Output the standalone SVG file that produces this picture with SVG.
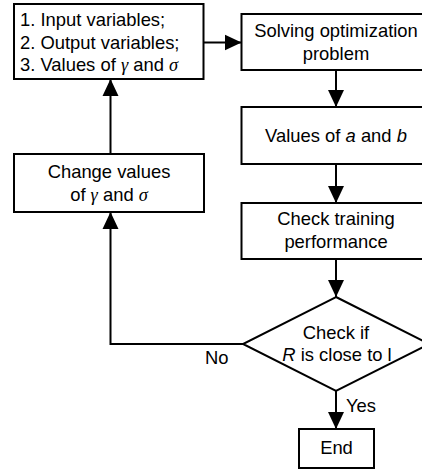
<svg xmlns="http://www.w3.org/2000/svg" width="422" height="471" viewBox="0 0 422 471">
<defs>
<style>
.box{fill:#fff;stroke:#000;stroke-width:2}
.t{font-family:"Liberation Sans",Arial,sans-serif;font-size:18.4px;fill:#000}
.c{text-anchor:middle}
.g{font-family:"Liberation Serif","Times New Roman",serif;font-style:italic}
.i{font-style:italic}
.ln{fill:none;stroke:#000;stroke-width:2}
</style>
<marker id="ah" markerUnits="userSpaceOnUse" markerWidth="17" markerHeight="17" viewBox="0 0 17 16" refX="17" refY="8" orient="auto">
<path d="M0,0 L17,8 L0,16 Z" fill="#000"/>
</marker>
</defs>
<rect width="422" height="471" fill="#fff"/>
<g id="connectors">
<line class="ln" x1="203.5" y1="42.5" x2="241.5" y2="42.5" marker-end="url(#ah)"/>
<line class="ln" x1="336" y1="70" x2="336" y2="107" marker-end="url(#ah)"/>
<line class="ln" x1="336" y1="164" x2="336" y2="203" marker-end="url(#ah)"/>
<line class="ln" x1="336" y1="259" x2="336" y2="297" marker-end="url(#ah)"/>
<line class="ln" x1="336" y1="391" x2="336" y2="429" marker-end="url(#ah)"/>
<polyline class="ln" points="243,344 110.5,344 110.5,212" marker-end="url(#ah)"/>
<line class="ln" x1="110.5" y1="154" x2="110.5" y2="79" marker-end="url(#ah)"/>
<text class="t" x="205" y="364">No</text>
<text class="t" x="346" y="412">Yes</text>
</g>
<g id="inputs">
<rect class="box" x="14" y="4" width="189.5" height="75"/>
<text class="t" x="20" y="26">1. Input variables;</text>
<text class="t" x="20" y="48.5">2. Output variables;</text>
<text class="t" x="20" y="71">3. Values of <tspan class="g">γ</tspan> and <tspan class="g">σ</tspan></text>
</g>
<g id="solving">
<rect class="box" x="241.5" y="14" width="189" height="56"/>
<text class="t c" x="336" y="37">Solving optimization</text>
<text class="t c" x="336" y="59.5">problem</text>
</g>
<g id="values">
<rect class="box" x="241.5" y="107" width="189" height="57"/>
<text class="t c" x="336" y="142">Values of <tspan class="i">a</tspan> and <tspan class="i">b</tspan></text>
</g>
<g id="check">
<rect class="box" x="241.5" y="203" width="189" height="56"/>
<text class="t c" x="336" y="225">Check training</text>
<text class="t c" x="336" y="247.5">performance</text>
</g>
<g id="decision">
<polygon class="box" points="336,297 429,344 336,391 243,344"/>
<text class="t c" x="336" y="339">Check if</text>
<text class="t c" x="337" y="361"><tspan class="i">R</tspan> is close to l</text>
</g>
<g id="change">
<rect class="box" x="14" y="154" width="190" height="58"/>
<text class="t c" x="109" y="178">Change values</text>
<text class="t c" x="109" y="200.5">of <tspan class="g">γ</tspan> and <tspan class="g">σ</tspan></text>
</g>
<g id="end">
<rect class="box" x="299" y="429" width="75" height="39"/>
<text class="t c" x="336.5" y="453.5">End</text>
</g>
</svg>
